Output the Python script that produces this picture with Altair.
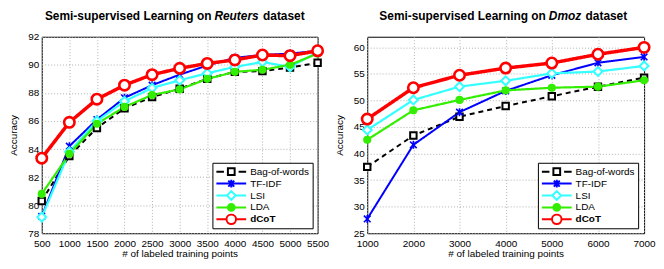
import altair as alt
import pandas as pd

series_names = ["Bag-of-words", "TF-IDF", "LSI", "LDA", "dCoT"]

reuters_title_parts = ["Semi-supervised Learning on", "Reuters", "dataset"]
dmoz_title_parts = ["Semi-supervised Learning on", "Dmoz", "dataset"]

reuters_x = [500, 1000, 1500, 2000, 2500, 3000, 3500, 4000, 4500, 5000, 5500]
reuters_bow = [80.3, 83.5, 85.5, 86.9, 87.7, 88.3, 89.0, 89.5, 89.55, 89.8, 90.15]
reuters_tfidf = [79.2, 84.2, 86.1, 87.65, 88.55, 89.3, 89.95, 90.5, 90.7, 90.8, 91.0]
reuters_lsi = [79.15, 83.8, 86.0, 87.4, 88.35, 88.9, 89.4, 89.85, 90.2, 89.85, 90.9]
reuters_lda = [80.8, 83.65, 85.8, 87.0, 87.85, 88.25, 89.0, 89.5, 89.65, 90.0, 90.8]
reuters_dcot = [83.35, 85.9, 87.55, 88.55, 89.3, 89.75, 90.1, 90.35, 90.7, 90.65, 91.0]

dmoz_x = [1000, 2000, 3000, 4000, 5000, 6000, 7000]
dmoz_bow = [37.5, 43.4, 46.95, 48.95, 50.8, 52.6, 54.3]
dmoz_tfidf = [27.7, 41.65, 47.8, 51.8, 54.75, 57.1, 58.2]
dmoz_lsi = [44.45, 50.1, 52.6, 53.7, 55.1, 55.45, 56.5]
dmoz_lda = [42.6, 48.15, 50.1, 51.9, 52.4, 52.6, 53.8]
dmoz_dcot = [46.5, 52.4, 54.75, 56.1, 57.05, 58.7, 60.0]

line_colors = ["#000000", "#0000ff", "#33ffff", "#33ee00", "#ff0000"]
line_widths = [2, 2, 2.2, 2.2, 3.5]
line_dashes = [[5, 4], [1, 0], [1, 0], [1, 0], [1, 0]]
point_shapes = ["square", "M-1,-1L1,1M-1,1L1,-1M0,-1.2L0,1.2", "diamond", "circle", "circle"]
point_sizes = [42, 45, 80, 45, 110]
point_fills = ["#ffffff", "transparent", "#ffffff", "#33ee00", "#ffffff"]
point_stroke_widths = [2, 1.6, 2, 1.5, 2.6]

# legend symbols: unit = 4px (size 64); line from -1 to 6.5 units, marker centred at 2.75
legend_paths = [
    "M-1,0H0.9M1.9,-0.85H3.6V0.85H1.9ZM4.6,0H6.5",
    "M-1,0H6.5M2.0,-0.75L3.5,0.75M2.0,0.75L3.5,-0.75M2.75,-1V1",
    "M-1,0H1.65M3.85,0H6.5M2.75,-1.1L3.85,0L2.75,1.1L1.65,0Z",
    "M-1,0H6.5M1.9,0A0.85,0.85 0 1,0 3.6,0A0.85,0.85 0 1,0 1.9,0Z",
    "M-1,0H1.55M3.95,0H6.5M1.55,0A1.2,1.2 0 1,0 3.95,0A1.2,1.2 0 1,0 1.55,0Z",
]
legend_fills = ["#ffffff", "transparent", "#ffffff", "#33ee00", "#ffffff"]
legend_stroke_widths = [2, 2, 2, 2, 3]

FONT = "Liberation Sans"


def title_layers(parts, anchors):
    out = []
    styles = ["normal", "italic", "normal"]
    aligns = ["right", "left", "left"]
    for part, ax, st, al in zip(parts, anchors, styles, aligns):
        out.append(
            alt.Chart(alt.Data(values=[{"t": part}]))
            .mark_text(
                align=al,
                baseline="middle",
                font=FONT,
                fontSize=12,
                fontWeight="bold",
                fontStyle=st,
                color="black",
            )
            .encode(text="t:N", x=alt.value(ax), y=alt.value(-21))
        )
    return out


def make_panel(xs, ys_list, title_parts, title_anchors, x_ticks, y_dom, y_ticks, width):
    rows = []
    for name, ys in zip(series_names, ys_list):
        for xv, yv in zip(xs, ys):
            rows.append({"x": xv, "y": yv, "series": name})
    df = pd.DataFrame(rows)
    base = alt.Chart(df)
    xenc = alt.X(
        "x:Q",
        scale=alt.Scale(domain=[x_ticks[0], x_ticks[-1]], nice=False),
        axis=alt.Axis(
            values=x_ticks,
            title="# of labeled training points",
            format="d",
            labelOverlap=False,
            labelFlush=False,
            labelPadding=5,
            titlePadding=0,
        ),
    )
    yenc = alt.Y(
        "y:Q",
        scale=alt.Scale(domain=y_dom, nice=False),
        axis=alt.Axis(
            values=y_ticks,
            title="Accuracy",
            labelOverlap=False,
            labelFlush=False,
            labelPadding=3,
            titlePadding=9,
        ),
    )
    layers = []
    for i, name in enumerate(series_names):
        d = base.transform_filter(alt.datum.series == name)
        layers.append(
            d.mark_line(
                color=line_colors[i],
                strokeWidth=line_widths[i],
                strokeDash=line_dashes[i],
            ).encode(x=xenc, y=yenc)
        )
    for i, name in enumerate(series_names):
        d = base.transform_filter(alt.datum.series == name)
        layers.append(
            d.mark_point(
                shape=point_shapes[i],
                size=point_sizes[i],
                fill=point_fills[i],
                stroke=line_colors[i],
                strokeWidth=point_stroke_widths[i],
                opacity=1,
            ).encode(x=xenc, y=yenc)
        )
    leg = alt.Legend(
        title=None,
        orient="none",
        legendX=172,
        legendY=127,
        fillColor="white",
        strokeColor="black",
        padding=3,
        labelFont=FONT,
        labelFontSize=10,
        labelColor="black",
        labelOffset=25,
        rowPadding=0,
        clipHeight=12,
        symbolSize=64,
        labelFontWeight=alt.ExprRef("datum.value == 'dCoT' ? 'bold' : 'normal'"),
        cornerRadius=0,
    )
    legend_layer = (
        base.transform_filter("false")
        .mark_point(opacity=1)
        .encode(
            shape=alt.Shape("series:N", scale=alt.Scale(domain=series_names, range=legend_paths), legend=leg),
            stroke=alt.Stroke("series:N", scale=alt.Scale(domain=series_names, range=line_colors), legend=leg),
            fill=alt.Fill("series:N", scale=alt.Scale(domain=series_names, range=legend_fills), legend=leg),
            strokeWidth=alt.StrokeWidth("series:N", scale=alt.Scale(domain=series_names, range=legend_stroke_widths), legend=leg),
        )
    )
    layers.append(legend_layer)
    layers.extend(title_layers(title_parts, title_anchors))
    return alt.layer(*layers).properties(width=width, height=198)


left = make_panel(
    reuters_x,
    [reuters_bow, reuters_tfidf, reuters_lsi, reuters_lda, reuters_dcot],
    reuters_title_parts,
    [171, 174, 223],
    reuters_x,
    [78, 92],
    [78, 80, 82, 84, 86, 88, 90, 92],
    278,
)
right = make_panel(
    dmoz_x,
    [dmoz_bow, dmoz_tfidf, dmoz_lsi, dmoz_lda, dmoz_dcot],
    dmoz_title_parts,
    [180, 183, 220],
    dmoz_x,
    [25, 62],
    [25, 30, 35, 40, 45, 50, 55, 60],
    279,
)

chart = (
    alt.hconcat(left, right, spacing=4)
    .resolve_scale(shape="independent", stroke="independent", fill="independent", strokeWidth="independent")
    .resolve_legend(shape="independent", stroke="independent", fill="independent", strokeWidth="independent")
    .properties(padding={"left": 0, "top": 0, "right": 0, "bottom": 0})
    .configure_view(stroke="black", strokeWidth=1)
    .configure_axis(
        labelFont=FONT,
        titleFont=FONT,
        labelFontSize=10,
        titleFontSize=10,
        titleFontWeight="normal",
        labelColor="black",
        titleColor="black",
        grid=True,
        gridColor="#b0b0b0",
        gridDash=[1, 2],
        gridWidth=1,
        domain=False,
        ticks=False,
    )
)

chart.save("out.html", embed_options={"renderer": "svg", "actions": False})
